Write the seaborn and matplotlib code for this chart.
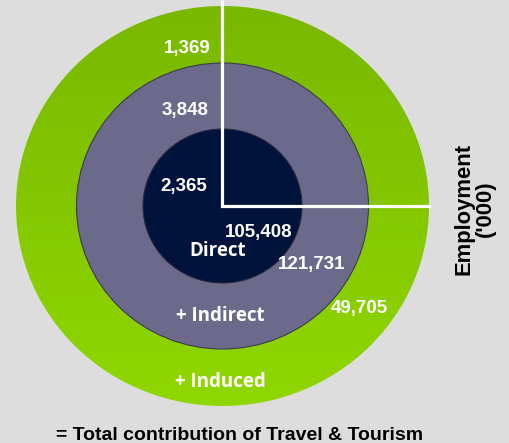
import numpy as np
import matplotlib
matplotlib.use("Agg")
import matplotlib.pyplot as plt
from matplotlib.patches import Ellipse
from matplotlib.colors import LinearSegmentedColormap
import seaborn as sns

# -------------------------------------------------
# Data
# -------------------------------------------------
ring_names = ["Direct", "+ Indirect", "+ Induced"]
gdp_values = [105408, 121731, 49705]       # lower-right quadrant
emp_values = [2365, 3848, 1369]            # upper-left quadrant
axis_label = "Employment\n('000)"
footer = "= Total contribution of Travel & Tourism"

# -------------------------------------------------
# Layout (pixel coordinates of the 509x443 canvas)
# -------------------------------------------------
W, H = 509, 443
cx, cy = 222.5, 206
ring_radii = [(79.5, 77), (146, 143), (206.5, 200)]   # (rx, ry) inner -> outer
name_pos = [(217.5, 251), (220, 316), (220, 382)]
gdp_pos = [(259, 232.5), (312, 265), (359, 309)]
emp_pos = [(207, 186.5), (209, 110), (211, 48)]

BG = "#dddddd"
NAVY = "#00133a"
SLATE = "#6b6a8b"
GREEN_TOP, GREEN_BOT = "#79b800", "#90d700"

sns.set_theme(style="white", rc={"figure.facecolor": BG, "axes.facecolor": BG})
plt.rcParams["font.family"] = ["Liberation Sans", "DejaVu Sans"]

fig = plt.figure(figsize=(W / 100, H / 100), dpi=100)
ax = fig.add_axes([0, 0, 1, 1])
ax.set_xlim(0, W)
ax.set_ylim(H, 0)
ax.set_axis_off()

# outer ring with vertical gradient
(rx3, ry3) = ring_radii[2]
outer = Ellipse((cx, cy), 2 * rx3, 2 * ry3, facecolor="none", edgecolor="none")
ax.add_patch(outer)
grad = np.linspace(0, 1, 256).reshape(-1, 1)
cmap = LinearSegmentedColormap.from_list("grn", [GREEN_TOP, GREEN_BOT])
img = ax.imshow(grad, cmap=cmap, aspect="auto",
                extent=[cx - rx3, cx + rx3, cy + ry3, cy - ry3],
                interpolation="bilinear", zorder=1)
img.set_clip_path(outer)
ax.set_xlim(0, W)
ax.set_ylim(H, 0)

# middle and inner circles
(rx2, ry2) = ring_radii[1]
ax.add_patch(Ellipse((cx, cy), 2 * rx2, 2 * ry2, facecolor=SLATE,
                     edgecolor="#3c3c52", lw=0.8, zorder=2))
(rx1, ry1) = ring_radii[0]
ax.add_patch(Ellipse((cx, cy), 2 * rx1, 2 * ry1, facecolor=NAVY,
                     edgecolor="#2a2a40", lw=0.8, zorder=3))

# white quadrant divider
ax.plot([cx, cx], [0, cy], color="white", lw=2.3, zorder=4, solid_capstyle="butt")
ax.plot([cx, cx + rx3], [cy, cy], color="white", lw=2.3, zorder=4, solid_capstyle="projecting")

# labels
for name, (x, y) in zip(ring_names, name_pos):
    ax.text(x, y, name, color="white", fontsize=13.5, fontweight="bold",
            family=["Open Sans", "DejaVu Sans"], ha="center", va="center", zorder=5)

for v, (x, y) in zip(gdp_values, gdp_pos):
    ax.text(x, y, f"{v:,}", color="white", fontsize=13.5, fontweight="bold",
            ha="center", va="center", zorder=5)

for v, (x, y) in zip(emp_values, emp_pos):
    ax.text(x, y, f"{v:,}", color="white", fontsize=13.5, fontweight="bold",
            ha="right", va="center", zorder=5)

ax.text(475, 209, axis_label, rotation=90, color="black", fontsize=15.8,
        fontweight="bold", ha="center", va="center", linespacing=1.0)

ax.text(240, 440, footer, color="black", fontsize=14, fontweight="bold",
        ha="center", va="baseline")

fig.savefig("out.png", dpi=100, facecolor=BG)
